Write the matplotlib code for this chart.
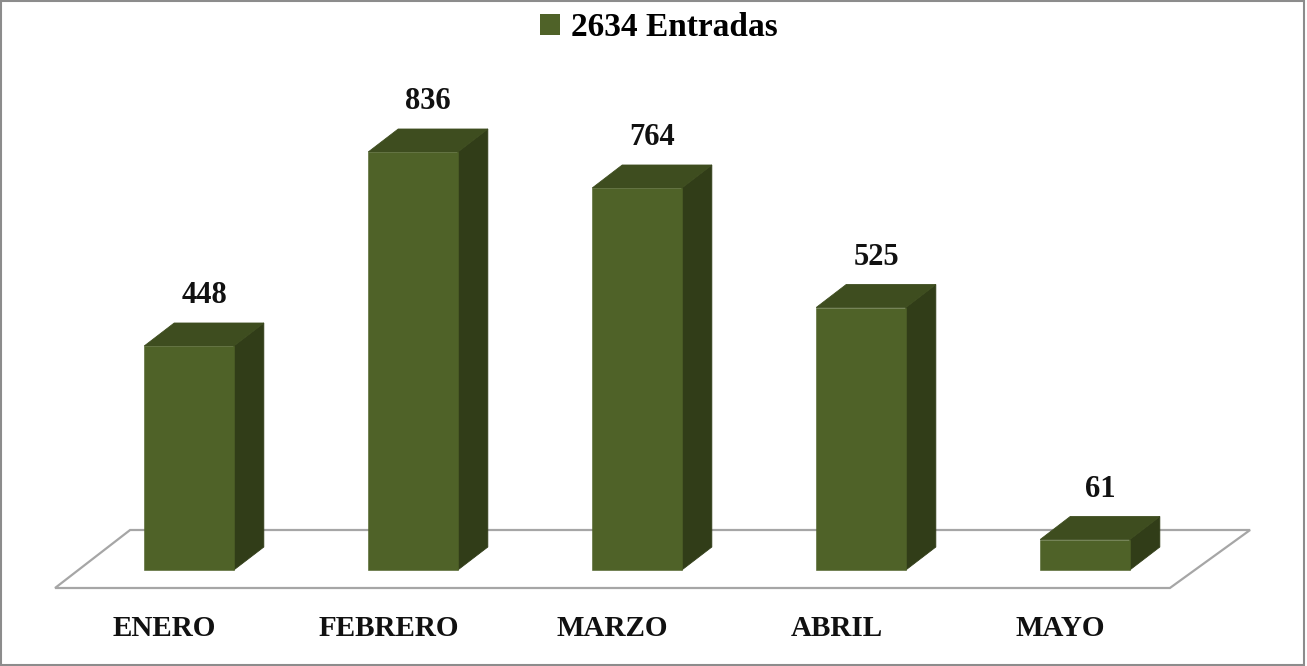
import matplotlib.pyplot as plt
from matplotlib.patches import Rectangle, Polygon, Patch

# data
months = ["ENERO", "FEBRERO", "MARZO", "ABRIL", "MAYO"]
entradas = [448, 836, 764, 525, 61]
legend_label = "2634 Entradas"

FRONT = "#4F6228"
TOP = "#3E4D1F"
SIDE = "#313D18"
FLOOR = "#A6A6A6"

# pseudo-3D geometry (category units / value units)
bar_w = 0.40
depth_x = 0.134
depth_y = 46

plt.rcParams["font.family"] = ["Liberation Serif", "DejaVu Serif"]
plt.rcParams["font.weight"] = "bold"

fig = plt.figure(figsize=(13.07, 6.66), dpi=100)
ax = fig.add_axes([0, 0, 1, 1])
ax.set_xlim(-0.84375, 4.991)
ax.set_ylim(-192, 1140)
ax.axis("off")

# floor outline
floor = Polygon([(-0.598, -36), (4.379, -36), (4.737, 80), (-0.263, 80)],
                closed=True, fill=False, edgecolor=FLOOR, linewidth=1.6, zorder=1)
ax.add_patch(floor)

for i, (m, v) in enumerate(zip(months, entradas)):
    x0 = i - bar_w / 2
    x1 = i + bar_w / 2
    ax.add_patch(Polygon([(x1, 0), (x1 + depth_x, depth_y), (x1 + depth_x, v + depth_y), (x1, v)],
                         closed=True, facecolor=SIDE, edgecolor=SIDE, linewidth=0.6, zorder=2))
    ax.add_patch(Polygon([(x0, v), (x0 + depth_x, v + depth_y), (x1 + depth_x, v + depth_y), (x1, v)],
                         closed=True, facecolor=TOP, edgecolor=TOP, linewidth=0.6, zorder=2))
    ax.add_patch(Rectangle((x0, 0), bar_w, v, facecolor=FRONT, edgecolor=FRONT,
                           linewidth=0.4, zorder=3))
    ax.annotate(str(v), xy=(i + depth_x / 2, v + depth_y), xytext=(0, 19.5),
                textcoords="offset points", ha="center", va="center",
                fontsize=22, fontweight="bold", color="#111111")
    ax.text(i - 0.11, -118, m, ha="center", va="center",
            fontsize=21, fontweight="bold", color="#111111")

leg = ax.legend(handles=[Patch(facecolor=FRONT, edgecolor="none", label=legend_label)],
                loc="center", bbox_to_anchor=(0.504, 0.958), frameon=False,
                prop={"size": 24, "weight": "bold"}, handlelength=0.6, handleheight=0.6,
                handletextpad=0.35)

# outer frame
fig.patches.append(Rectangle((0.001, 0.002), 0.997, 0.996, transform=fig.transFigure,
                             fill=False, edgecolor="#8C8C8C", linewidth=1.5))

fig.savefig("out.png", dpi=100)
